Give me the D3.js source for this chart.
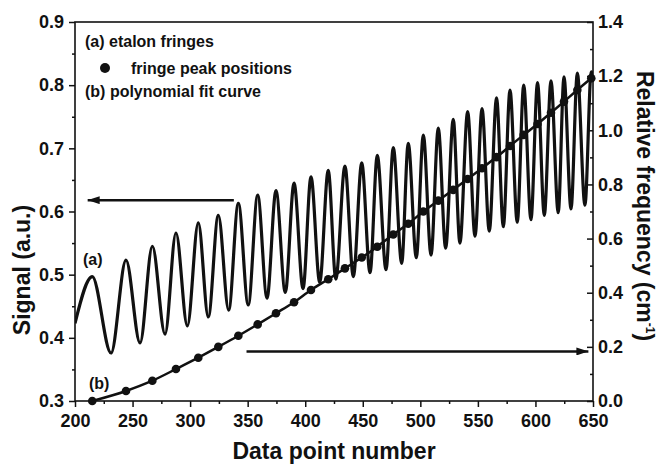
<!DOCTYPE html>
<html>
<head>
<meta charset="utf-8">
<script src="https://cdn.jsdelivr.net/npm/d3@7/dist/d3.min.js"></script>
<style>
  body { margin: 0; background: #fff; }
  text { font-family: "Liberation Sans", Arial, sans-serif; font-weight: bold; fill: #111; }
</style>
</head>
<body>
<div id="chart"></div>
<script>
// (a) etalon fringes: maxima and minima
var peakX = [215, 244.3, 267.2, 287.7, 307.1, 324.5, 341.9, 358.7, 374.6, 390.3,
  405, 420, 434.5, 449.1, 462.6, 476.5, 489.5, 502.6, 515.6, 528.6,
  541.1, 553.6, 566.2, 577.9, 589.8, 601.8, 613.5, 624.8, 636.4, 648.5];
var peakSignal = [0.497, 0.523, 0.545, 0.566, 0.582, 0.594, 0.613, 0.626, 0.633, 0.645,
  0.655, 0.665, 0.672, 0.677, 0.689, 0.701, 0.708, 0.721, 0.732, 0.746,
  0.758, 0.763, 0.780, 0.792, 0.800, 0.804, 0.807, 0.813, 0.819, 0.821];
var troughX = [231.3, 256.5, 278.2, 297.6, 315.8, 333.5, 350.5, 366.8, 382.7, 398.1,
  412.6, 426.6, 441.8, 456.3, 470.2, 483.8, 496.5, 509.3, 522, 534.4,
  547.5, 559.9, 572.1, 584.2, 596.1, 607.7, 619.8, 630.9, 643];
var troughSignal = [0.376, 0.392, 0.406, 0.419, 0.433, 0.444, 0.452, 0.463, 0.472, 0.478,
  0.488, 0.493, 0.497, 0.503, 0.508, 0.518, 0.527, 0.531, 0.542, 0.550,
  0.561, 0.569, 0.576, 0.583, 0.587, 0.594, 0.598, 0.604, 0.610];
var edgeX = [200, 650];
var edgeSignal = [0.423, 0.815];

// (b) relative frequency at each fringe peak
var peakFreq = [0, 0.037, 0.075, 0.118, 0.16, 0.2, 0.241, 0.283, 0.324, 0.365,
  0.41, 0.45, 0.49, 0.53, 0.57, 0.615, 0.655, 0.70, 0.74, 0.78,
  0.82, 0.86, 0.901, 0.942, 0.983, 1.023, 1.065, 1.106, 1.149, 1.192];

// arrows pointing at the axes
var leftArrowX = [338, 211], leftArrowSignal = 0.618;
var rightArrowX = [349, 646], rightArrowFreq = 0.183;

var xTicks = [200, 250, 300, 350, 400, 450, 500, 550, 600, 650];
var xMinor = [225, 275, 325, 375, 425, 475, 525, 575, 625];
var signalTicks = [0.3, 0.4, 0.5, 0.6, 0.7, 0.8, 0.9];
var signalMinor = [0.35, 0.45, 0.55, 0.65, 0.75, 0.85];
var freqTicks = [0, 0.2, 0.4, 0.6, 0.8, 1.0, 1.2, 1.4];
var freqMinor = [0.1, 0.3, 0.5, 0.7, 0.9, 1.1, 1.3];

var W = 659, H = 465;
var margin = {top: 22, right: 66, bottom: 64, left: 75};
var width = W - margin.left - margin.right,
  height = H - margin.top - margin.bottom;
var ink = "#111";

var svg = d3.select("#chart").append("svg")
  .attr("width", W)
  .attr("height", H);

var defs = svg.append("defs");
defs.append("clipPath").attr("id", "plotclip")
  .append("rect").attr("width", width).attr("height", height);
defs.append("marker")
  .attr("id", "head")
  .attr("markerUnits", "userSpaceOnUse")
  .attr("viewBox", "0 0 12 8")
  .attr("refX", 12).attr("refY", 4)
  .attr("markerWidth", 12).attr("markerHeight", 8)
  .attr("orient", "auto")
  .append("path").attr("d", "M0,0L12,4L0,8Z").attr("fill", ink);

var g = svg.append("g")
  .attr("transform", "translate(" + margin.left + "," + margin.top + ")");

var x = d3.scaleLinear().domain([200, 650]).range([0, width]);
var yL = d3.scaleLinear().domain([0.3, 0.9]).range([height, 0]);
var yR = d3.scaleLinear().domain([0, 1.4]).range([height, 0]);

var fmt1 = d3.format(".1f");

// axes
function styleAxis(sel) {
  sel.select(".domain").remove();
  sel.selectAll(".tick line").attr("stroke", ink).attr("stroke-width", 1.5);
  sel.selectAll(".tick text").style("font-size", "18px").attr("fill", ink);
}

g.append("g").attr("transform", "translate(0," + height + ")")
  .call(d3.axisBottom(x).tickValues(xTicks).tickFormat(d3.format("d")).tickSize(6).tickPadding(7))
  .call(styleAxis);
g.append("g").attr("transform", "translate(0," + height + ")")
  .call(d3.axisBottom(x).tickValues(xMinor).tickFormat("").tickSize(3))
  .call(styleAxis);

g.append("g")
  .call(d3.axisLeft(yL).tickValues(signalTicks).tickFormat(fmt1).tickSize(6).tickPadding(5))
  .call(styleAxis);
g.append("g")
  .call(d3.axisLeft(yL).tickValues(signalMinor).tickFormat("").tickSize(3))
  .call(styleAxis);

g.append("g").attr("transform", "translate(" + width + ",0)")
  .call(d3.axisRight(yR).tickValues(freqTicks).tickFormat(fmt1).tickSize(-6).tickPadding(5))
  .call(styleAxis);
g.append("g").attr("transform", "translate(" + width + ",0)")
  .call(d3.axisRight(yR).tickValues(freqMinor).tickFormat("").tickSize(-3))
  .call(styleAxis);

// frame
g.append("rect")
  .attr("width", width).attr("height", height)
  .attr("fill", "none").attr("stroke", ink).attr("stroke-width", 1.6);

// fringe curve through the read maxima / minima
var fringe = [];
edgeX.forEach(function(v, i) { fringe.push([v, edgeSignal[i]]); });
peakX.forEach(function(v, i) { fringe.push([v, peakSignal[i]]); });
troughX.forEach(function(v, i) { fringe.push([v, troughSignal[i]]); });
fringe.sort(function(a, b) { return a[0] - b[0]; });

var plot = g.append("g").attr("clip-path", "url(#plotclip)");

plot.append("path")
  .datum(fringe)
  .attr("fill", "none")
  .attr("stroke", ink)
  .attr("stroke-width", 3.2)
  .attr("stroke-linejoin", "round")
  .attr("d", d3.line()
    .x(function(d) { return x(d[0]); })
    .y(function(d) { return yL(d[1]); })
    .curve(d3.curveMonotoneX));

// fit curve and peak positions
var fit = peakX.map(function(v, i) { return [v, peakFreq[i]]; });

plot.append("path")
  .datum(fit)
  .attr("fill", "none")
  .attr("stroke", ink)
  .attr("stroke-width", 2.5)
  .attr("d", d3.line()
    .x(function(d) { return x(d[0]); })
    .y(function(d) { return yR(d[1]); })
    .curve(d3.curveMonotoneX));

g.append("g").selectAll("circle")
  .data(fit)
  .enter().append("circle")
  .attr("cx", function(d) { return x(d[0]); })
  .attr("cy", function(d) { return yR(d[1]); })
  .attr("r", 4.3)
  .attr("fill", ink);

// arrows
g.append("line")
  .attr("x1", x(leftArrowX[0])).attr("x2", x(leftArrowX[1]))
  .attr("y1", yL(leftArrowSignal)).attr("y2", yL(leftArrowSignal))
  .attr("stroke", ink).attr("stroke-width", 2.5)
  .attr("marker-end", "url(#head)");
g.append("line")
  .attr("x1", x(rightArrowX[0])).attr("x2", x(rightArrowX[1]))
  .attr("y1", yR(rightArrowFreq)).attr("y2", yR(rightArrowFreq))
  .attr("stroke", ink).attr("stroke-width", 2.5)
  .attr("marker-end", "url(#head)");

// curve labels
g.append("text").attr("x", 8).attr("y", 243).style("font-size", "16px").text("(a)");
g.append("text").attr("x", 14).attr("y", 367).style("font-size", "16px").text("(b)");

// legend
var legend = g.append("g").style("font-size", "16px");
legend.append("text").attr("x", 10).attr("y", 25).text("(a) etalon fringes");
legend.append("circle").attr("cx", 30).attr("cy", 46).attr("r", 5).attr("fill", ink);
legend.append("text").attr("x", 56).attr("y", 52).text("fringe peak positions");
legend.append("text").attr("x", 10).attr("y", 75).text("(b) polynomial fit curve");

// axis titles
svg.append("text")
  .attr("x", margin.left + width / 2).attr("y", 459)
  .attr("text-anchor", "middle")
  .style("font-size", "23px")
  .text("Data point number");

svg.append("text")
  .attr("transform", "translate(30," + (margin.top + 248) + ") rotate(-90)")
  .attr("text-anchor", "middle")
  .style("font-size", "23px")
  .text("Signal (a.u.)");

var rt = svg.append("text")
  .attr("transform", "translate(637," + (margin.top + 184) + ") rotate(90)")
  .attr("text-anchor", "middle")
  .style("font-size", "23px");
rt.append("tspan").text("Relative frequency (cm");
rt.append("tspan").attr("dy", -9).style("font-size", "12px").text("-1");
rt.append("tspan").attr("dy", 9).text(")");
</script>
</body>
</html>
